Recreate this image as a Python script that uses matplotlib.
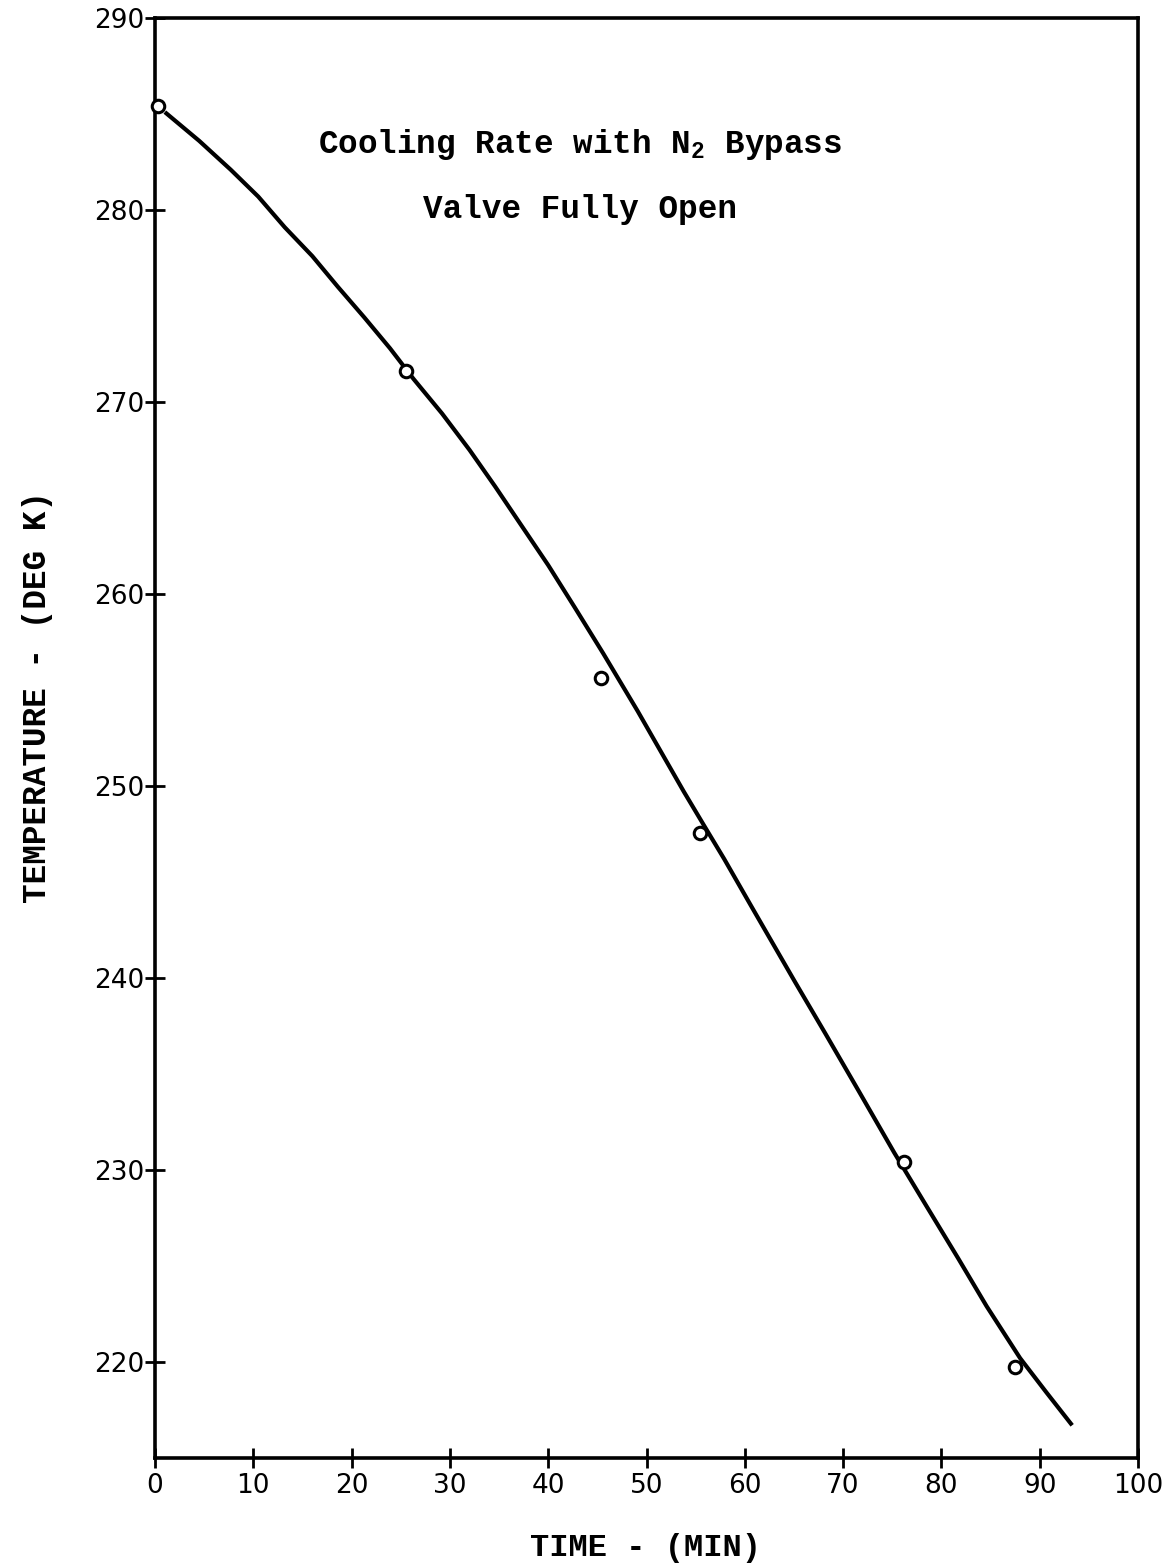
import matplotlib
matplotlib.use("Agg")
import matplotlib.pyplot as plt

# measured points (open circles)
time_pts = [0.3, 25.5, 45.4, 55.4, 76.2, 87.5]
temp_pts = [285.4, 271.6, 255.6, 247.55, 230.4, 219.75]

# faired curve
time_curve = [1.0, 4.5, 7.7, 10.5, 13.2, 16.0, 18.6, 21.3, 23.9, 26.3, 29.2,
              32.0, 34.6, 37.1, 40.0, 42.7, 45.6, 49.1, 53.8, 55.9, 57.9,
              60.7, 65.1, 68.2, 71.6, 75.2, 78.5, 81.7, 84.6, 88.0, 90.7, 93.3]
temp_curve = [285.1, 283.6, 282.1, 280.7, 279.1, 277.6, 276.0, 274.4, 272.8,
              271.2, 269.4, 267.5, 265.6, 263.7, 261.5, 259.3, 256.9, 253.9,
              249.7, 247.9, 246.2, 243.7, 239.8, 237.1, 234.1, 230.9, 228.1,
              225.4, 222.9, 220.2, 218.4, 216.7]

x_ticks = [0, 10, 20, 30, 40, 50, 60, 70, 80, 90, 100]
y_ticks = [220, 230, 240, 250, 260, 270, 280, 290]

mono = "Liberation Mono"
plt.rcParams["mathtext.fontset"] = "custom"
plt.rcParams["mathtext.rm"] = "Liberation Mono:bold"
plt.rcParams["mathtext.it"] = "Liberation Mono:bold"

fig = plt.figure(figsize=(11.69, 15.67), dpi=100)
ax = fig.add_axes([0.1326, 0.0696, 0.8409, 0.9189])

ax.plot(time_curve, temp_curve, color="black", lw=3.0,
        solid_joinstyle="round", solid_capstyle="butt")
ax.plot(time_pts, temp_pts, "o", ms=9, mfc="white", mec="black", mew=2.2,
        clip_on=False, zorder=5)

ax.set_xlim(0, 100)
ax.set_ylim(215, 290)
ax.set_xticks(x_ticks)
ax.set_yticks(y_ticks)
ax.tick_params(direction="inout", length=15, width=2, labelsize=19)
ax.tick_params(axis="x", pad=3)
ax.tick_params(axis="y", pad=0)
for s in ax.spines.values():
    s.set_linewidth(2.6)

ax.text(0.432, 0.912, "Cooling Rate with N$_{2}$ Bypass", transform=ax.transAxes,
        ha="center", va="center", fontsize=23.5, family=mono, weight="bold")
ax.text(0.432, 0.867, "Valve Fully Open", transform=ax.transAxes,
        ha="center", va="center", fontsize=23.5, family=mono, weight="bold")

fig.text(0.552, 1 - 1548 / 1567, "TIME - (MIN)", ha="center", va="center",
         fontsize=23, family=mono, weight="bold")
fig.text(38 / 1169, 1 - 697 / 1567, "TEMPERATURE - (DEG K)", ha="center",
         va="center", rotation=90, fontsize=23.5, family=mono, weight="bold")

fig.savefig("out.png", dpi=100, facecolor="white")
